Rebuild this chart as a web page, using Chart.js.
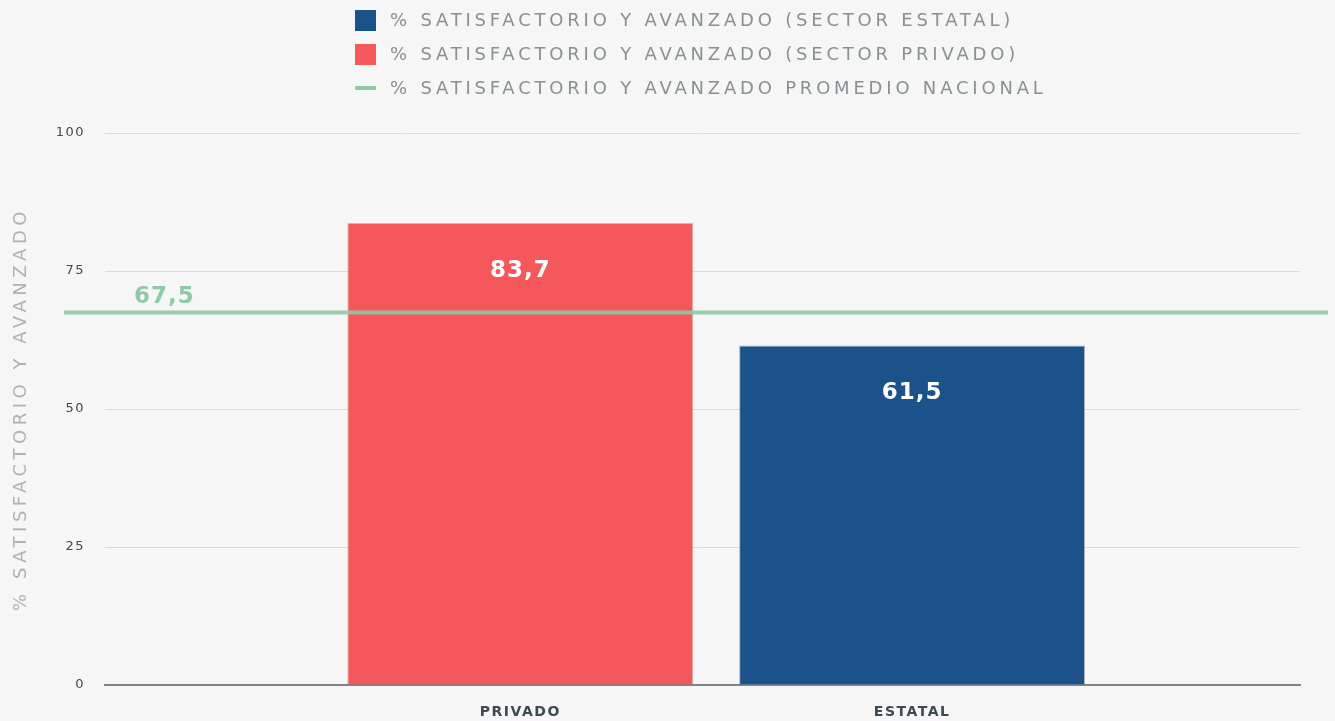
<!DOCTYPE html>
<html>
<head>
<meta charset="utf-8">
<script src="https://cdn.jsdelivr.net/npm/chart.js@4.4.1/dist/chart.umd.min.js"></script>
<style>
    html, body { margin: 0; padding: 0; background: #f6f6f6; }
    #wrap { width: 1335px; height: 721px; position: relative; }
</style>
</head>
<body>
<div id="wrap"><canvas id="chart"></canvas></div>
<script>
// Data
const categorias = ['PRIVADO', 'ESTATAL'];
const valorPrivado = [83.7];
const valorEstatal = [61.5];
const promedioNacional = [67.5];
const ticksY = [0, 25, 50, 75, 100];
const etiquetas = [
    '% SATISFACTORIO Y AVANZADO (SECTOR ESTATAL)',
    '% SATISFACTORIO Y AVANZADO (SECTOR PRIVADO)',
    '% SATISFACTORIO Y AVANZADO PROMEDIO NACIONAL'
];
const tituloY = '% SATISFACTORIO Y AVANZADO';

// Styles
const FONT = '"DejaVu Sans", sans-serif';
const C = {
    rojo: '#f5585b', azul: '#1a5289', verde: '#8fc9a5',
    texto: '#3d4a52', gris: '#879094', titulo: '#adb2b5', grid: '#d8dcdf'
};

const $ = id => document.getElementById(id);
const fmt = v => v.toFixed(1).replace('.', ',');

// Custom legend, y title, average line and value labels
const decor = {
    id: 'decor',
    beforeLayout: chart => { chart.ctx.letterSpacing = '1.5px'; },
    beforeDraw: chart => {
        const ctx = chart.ctx;
        ctx.save();
        ctx.fillStyle = '#f6f6f6';
        ctx.fillRect(0, 0, chart.width, chart.height);
        ctx.restore();
        ctx.letterSpacing = '1.5px';
    },
    afterDatasetsDraw: chart => {
        const ctx = chart.ctx;
        const y = chart.scales.y.getPixelForValue(promedioNacional[0]);
        ctx.save();
        // value labels
        ctx.fillStyle = '#fff';
        ctx.font = `bold 23px ${FONT}`;
        ctx.letterSpacing = '1px';
        ctx.textAlign = 'center';
        ctx.textBaseline = 'middle';
        chart.data.datasets.forEach((ds, i) => {
            chart.getDatasetMeta(i).data.forEach((bar, j) => {
                ctx.fillText(fmt(ds.data[j].y), bar.x, bar.y + 48);
            });
        });
        // national average line
        ctx.strokeStyle = C.verde;
        ctx.globalAlpha = 0.9;
        ctx.lineWidth = 4;
        ctx.beginPath();
        ctx.moveTo(64, y);
        ctx.lineTo(chart.width - 7, y);
        ctx.stroke();
        ctx.globalAlpha = 1;
        ctx.fillStyle = C.verde;
        ctx.textAlign = 'left';
        ctx.fillText(fmt(promedioNacional[0]), 134, y - 15);
        ctx.restore();
    },
    afterDraw: chart => {
        const ctx = chart.ctx;
        const area = chart.chartArea;
        ctx.save();
        // legend
        ctx.font = `18px ${FONT}`;
        ctx.letterSpacing = '3.8px';
        ctx.textBaseline = 'middle';
        const colores = [C.azul, C.rojo, C.verde];
        etiquetas.forEach((t, i) => {
            const y = 20 + i * 34;
            ctx.fillStyle = colores[i];
            if (i < 2) ctx.fillRect(355, y - 10, 21, 21);
            else ctx.fillRect(355, y - 2, 21, 4);
            ctx.fillStyle = C.gris;
            ctx.fillText(t, 390, y + 1);
        });
        // y axis title
        ctx.translate(21, (area.top + area.bottom) / 2);
        ctx.rotate(-Math.PI / 2);
        ctx.font = `18px ${FONT}`;
        ctx.letterSpacing = '4.5px';
        ctx.textAlign = 'center';
        ctx.fillStyle = C.titulo;
        ctx.fillText(tituloY, 0, 0);
        ctx.restore();
    }
};

new Chart($('chart'), {
    type: 'bar',
    data: {
        datasets: [
            {
                label: etiquetas[0],
                data: valorEstatal.map(v => ({ x: categorias.indexOf('ESTATAL'), y: v })),
                backgroundColor: C.azul,
                borderColor: 'rgba(60,60,60,.35)'
            },
            {
                label: etiquetas[1],
                data: valorPrivado.map(v => ({ x: categorias.indexOf('PRIVADO'), y: v })),
                backgroundColor: C.rojo,
                borderColor: 'rgba(90,90,90,.35)'
            }
        ]
    },
    options: {
        responsive: true,
        maintainAspectRatio: false,
        animation: false,
        layout: { padding: { top: 133, right: 35, left: 0, bottom: 0 } },
        datasets: {
            bar: { grouped: false, borderWidth: 1, categoryPercentage: 1, barPercentage: 0.883 }
        },
        plugins: { legend: { display: false }, tooltip: { enabled: false } },
        scales: {
            x: {
                type: 'linear',
                offset: false,
                min: -1.06,
                max: 1.99,
                afterBuildTicks: s => { s.ticks = categorias.map((c, i) => ({ value: i })); },
                afterFit: s => { s.height = 36; },
                grid: { display: false, drawTicks: false },
                border: { display: true, color: '#7d858a', width: 2 },
                ticks: {
                    autoSkip: false,
                    padding: 19,
                    color: C.texto,
                    font: { family: FONT, size: 14, weight: 'bold' },
                    callback: v => categorias[v] ?? ''
                }
            },
            y: {
                min: 0,
                max: 100,
                afterBuildTicks: s => { s.ticks = ticksY.map(v => ({ value: v })); },
                afterFit: s => { s.width = 105; },
                grid: { color: C.grid, drawTicks: false },
                border: { display: false },
                ticks: {
                    padding: 20,
                    color: C.texto,
                    font: { family: FONT, size: 13 }
                }
            }
        }
    },
    plugins: [decor]
});
</script>
</body>
</html>
